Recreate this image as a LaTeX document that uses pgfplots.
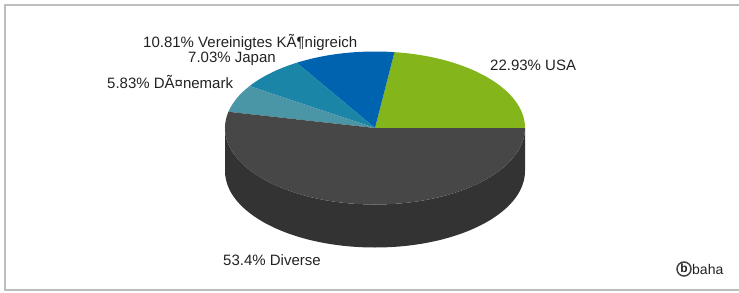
\documentclass[border=0pt]{standalone}
\usepackage{pgfplots}
\pgfplotsset{compat=1.18}
\usepackage{pgfplotstable}
\usepackage{fontspec}
\setmainfont{Liberation Sans}
\definecolor{cUSA}{HTML}{84B51B}
\definecolor{cUK}{HTML}{0063AF}
\definecolor{cJP}{HTML}{1A85A6}
\definecolor{cDK}{HTML}{4A96A6}
\definecolor{cDIV}{HTML}{474747}
\definecolor{cSide}{HTML}{333333}
\definecolor{cFrame}{HTML}{BDBDBD}
\definecolor{cText}{HTML}{222222}
\pgfplotstableread{
pct col
22.93 cUSA
10.81 cUK
7.03 cJP
5.83 cDK
53.4 cDIV
}\piedata
\begin{document}
\begin{tikzpicture}
\begin{axis}[width=739bp,height=293bp,scale only axis,
  xmin=0,xmax=739,ymin=0,ymax=293,y dir=reverse,hide axis,clip=false]
\draw[cFrame, line width=1.5bp] (axis cs:760,5) -- (axis cs:5,5) -- (axis cs:5,290) -- (axis cs:760,290);
\fill[cSide] (axis cs:225,128) -- (axis cs:225,171)
  arc[start angle=180,end angle=360,x radius=150bp,y radius=76.5bp]
  -- (axis cs:525,128)
  arc[start angle=0,end angle=-180,x radius=150bp,y radius=76.5bp] -- cycle;
\pgfplotstablegetrowsof{\piedata}
\pgfmathtruncatemacro\N{\pgfplotsretval-1}
\def\cum{0}
\pgfplotsforeachungrouped \i in {0,...,\N}{%
  \pgfplotstablegetelem{\i}{pct}\of\piedata
  \let\p\pgfplotsretval
  \pgfmathsetmacro\a{\cum*3.6}%
  \pgfmathsetmacro\b{(\cum+\p)*3.6}%
  \pgfplotstablegetelem{\i}{col}\of\piedata
  \edef\c{\pgfplotsretval}%
  \edef\temp{\noexpand\fill[\c] (axis cs:375,128) -- ++(\a:150bp and 76.5bp)
    arc[start angle=\a, end angle=\b, x radius=150bp, y radius=76.5bp] -- cycle;}%
  \temp
  \pgfmathsetmacro\cum{\cum+\p}%
}
\begin{scope}[every node/.style={font=\fontsize{15bp}{18bp}\selectfont, text=cText, inner sep=0pt, anchor=base west}]
\node at (axis cs:143,47) {10.81\% Vereinigtes KÃ¶nigreich};
\node at (axis cs:188,62) {7.03\% Japan};
\node at (axis cs:107,88) {5.83\% DÃ¤nemark};
\node at (axis cs:490,70) {22.93\% USA};
\node at (axis cs:223,265) {53.4\% Diverse};
\end{scope}
\draw[cText!85, line width=1.5bp] (axis cs:684,269) circle[radius=7bp];
\node[font=\fontsize{12bp}{14bp}\selectfont\bfseries, text=cText, inner sep=0pt] at (axis cs:684,268.5) {b};
\node[font=\fontsize{14bp}{16bp}\selectfont, text=cText, anchor=base west, inner sep=0pt] at (axis cs:692,274) {baha};
\end{axis}
\pgfresetboundingbox
\path[use as bounding box] (0,0) rectangle (739bp,293bp);
\end{tikzpicture}
\end{document}
